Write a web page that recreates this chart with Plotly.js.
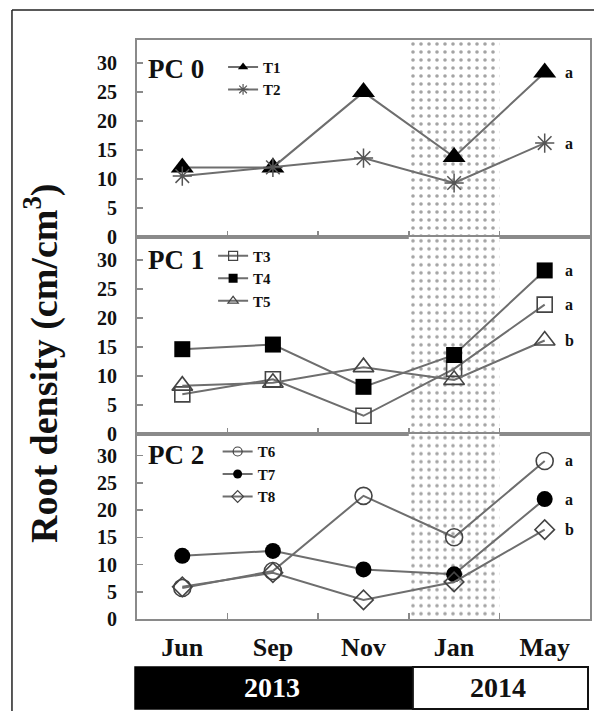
<!DOCTYPE html>
<html><head><meta charset="utf-8">
<script src="https://cdn.plot.ly/plotly-3.0.1.min.js"></script>
<style>html,body{margin:0;padding:0;background:#fff}#chart{width:594px;height:711px}</style>
</head><body><div id="chart"></div>
<script>
// ---- data ----
const months = ['Jun', 'Sep', 'Nov', 'Jan', 'May'];
const shadedMonth = 'Jan';
const panelLabels = ['PC 0', 'PC 1', 'PC 2'];
const yTicks = [0, 5, 10, 15, 20, 25, 30];
const years = ['2013', '2014'];
const yTitle = 'Root density (cm/cm<sup>3</sup>)';

const namesPC0 = ['T1', 'T2'];
const T1 = [12.0, 12.0, 25.0, 13.8, 28.4];
const T2 = [10.5, 12.0, 13.6, 9.3, 16.2];
const sigPC0 = ['a', 'a'];

const namesPC1 = ['T3', 'T4', 'T5'];
const T3 = [6.8, 9.4, 3.1, 11.2, 22.3];
const T4 = [14.6, 15.4, 8.1, 13.6, 28.2];
const T5 = [8.3, 8.8, 11.5, 9.3, 16.1];
const sigPC1 = ['a', 'a', 'b'];

const namesPC2 = ['T6', 'T7', 'T8'];
const T6 = [5.7, 8.8, 22.6, 15.0, 29.0];
const T7 = [11.6, 12.5, 9.1, 8.2, 22.0];
const T8 = [5.9, 8.5, 3.5, 6.8, 16.4];
const sigPC2 = ['a', 'a', 'b'];

// ---- styles ----
const Y_MAX = 34;
const SERIF = 'Liberation Serif, Times New Roman, serif';
const LINE = '#6e6e6e';
const FRAME = '#8a8a8a';
const styles = {
  T1: {symbol: 'triangle-up', size: 20, color: '#000', lc: '#000', lw: 0},
  T2: {symbol: 'asterisk-open', size: 16, color: '#555', lc: '#555', lw: 1.5},
  T3: {symbol: 'square-open', size: 15, color: '#444', lc: '#444', lw: 1.6},
  T4: {symbol: 'square', size: 16, color: '#000', lc: '#000', lw: 0},
  T5: {symbol: 'triangle-up-open', size: 18, color: '#444', lc: '#444', lw: 1.6},
  T6: {symbol: 'circle-open', size: 17, color: '#444', lc: '#444', lw: 1.6},
  T7: {symbol: 'circle', size: 16, color: '#000', lc: '#000', lw: 0},
  T8: {symbol: 'diamond-open', size: 15, color: '#444', lc: '#444', lw: 1.6}
};

const panels = [
  {names: namesPC0, series: [T1, T2], sig: sigPC0, xa: 'x', ya: 'y', legend: 'legend'},
  {names: namesPC1, series: [T3, T4, T5], sig: sigPC1, xa: 'x2', ya: 'y2', legend: 'legend2'},
  {names: namesPC2, series: [T6, T7, T8], sig: sigPC2, xa: 'x3', ya: 'y3', legend: 'legend3'}
];

const traces = [];
const annotations = [];
panels.forEach((p, pi) => {
  // winter shading band
  traces.push({
    type: 'bar', x: [shadedMonth], y: [Y_MAX], width: 1, xaxis: p.xa, yaxis: p.ya,
    marker: {color: '#ffffff', line: {width: 0},
      pattern: {shape: '.', size: 8, solidity: 0.16, fgcolor: '#a4a4a4', bgcolor: '#ffffff'}},
    showlegend: false, hoverinfo: 'skip'
  });
  p.names.forEach((n, i) => {
    const s = styles[n];
    traces.push({
      type: 'scatter', mode: 'lines+markers', x: months, y: p.series[i], name: n,
      xaxis: p.xa, yaxis: p.ya, showlegend: false, cliponaxis: false,
      line: {color: LINE, width: 2},
      marker: {symbol: s.symbol, size: s.size, color: s.color, line: {color: s.lc, width: s.lw}}
    });
    // legend entry (small marker)
    traces.push({
      type: 'scatter', mode: 'lines+markers', x: [null], y: [null], name: n,
      xaxis: p.xa, yaxis: p.ya, legend: p.legend, showlegend: true,
      line: {color: LINE, width: 2},
      marker: {symbol: s.symbol, size: 9, color: s.color, line: {color: s.lc, width: s.lw ? 1.2 : 0}}
    });
    annotations.push({
      xref: p.xa, yref: p.ya, x: months[months.length - 1], y: p.series[i][months.length - 1],
      text: p.sig[i], showarrow: false, xanchor: 'left', yanchor: 'middle', xshift: 18,
      font: {family: SERIF, size: 16, weight: 'bold', color: '#111'}
    });
  });
});

const pcY = [0.853, 0.883, 0.886];
panels.forEach((p, pi) => {
  annotations.push({
    xref: p.xa + ' domain', yref: p.ya + ' domain', x: 0.02, y: pcY[pi],
    text: panelLabels[pi], showarrow: false, xanchor: 'left', yanchor: 'middle',
    font: {family: SERIF, size: 27, weight: 'bold', color: '#111'}
  });
});

annotations.push({
  xref: 'paper', yref: 'paper', x: -0.212, y: 0.442, text: yTitle, textangle: -90,
  showarrow: false, xanchor: 'center', yanchor: 'middle',
  font: {family: SERIF, size: 38, weight: 'bold', color: '#111'}
});
annotations.push({
  xref: 'paper', yref: 'paper', x: 0.298, y: -0.119, text: years[0], showarrow: false,
  xanchor: 'center', yanchor: 'middle',
  font: {family: SERIF, size: 28, weight: 'bold', color: '#ffffff'}
});
annotations.push({
  xref: 'paper', yref: 'paper', x: 0.797, y: -0.119, text: years[1], showarrow: false,
  xanchor: 'center', yanchor: 'middle',
  font: {family: SERIF, size: 28, weight: 'bold', color: '#111'}
});

const shapes = [
  {type: 'rect', xref: 'paper', yref: 'paper', x0: -0.0044, x1: 0.609, y0: -0.1554, y1: -0.0829,
   fillcolor: '#000', line: {color: '#000', width: 1.5}, layer: 'below'},
  {type: 'rect', xref: 'paper', yref: 'paper', x0: 0.609, x1: 0.9956, y0: -0.1554, y1: -0.0829,
   fillcolor: '#fff', line: {color: '#111', width: 2}, layer: 'below'},
  {type: 'line', xref: 'paper', yref: 'paper', x0: -0.276, x1: 1.02, y0: 1.0518, y1: 1.0518,
   line: {color: '#222', width: 1.5}},
  {type: 'line', xref: 'paper', yref: 'paper', x0: -0.276, x1: -0.276, y0: 1.0518, y1: -0.2,
   line: {color: '#222', width: 1.5}}
];

function xAxis(anchor, showLabels) {
  return {
    anchor: anchor, domain: [0, 1], type: 'category', categoryorder: 'array', categoryarray: months,
    range: [-0.5, 4.5], tickson: 'boundaries', ticks: 'inside', ticklen: 6, tickwidth: 1.5,
    tickcolor: FRAME, showline: true, linecolor: FRAME, linewidth: 2, mirror: true,
    showgrid: false, zeroline: false, fixedrange: true, showticklabels: showLabels,
    ticklabelstandoff: 4,
    tickfont: {family: SERIF, size: 26, weight: 'bold', color: '#111'}
  };
}
function yAxis(anchor, domain) {
  return {
    anchor: anchor, domain: domain, range: [0, Y_MAX], tickmode: 'array', tickvals: yTicks,
    ticks: 'inside', ticklen: 6, tickwidth: 1.5, tickcolor: FRAME, showline: true,
    linecolor: FRAME, linewidth: 2, mirror: true, showgrid: false, zeroline: false,
    fixedrange: true, ticklabelstandoff: 14,
    tickfont: {family: SERIF, size: 20, weight: 'bold', color: '#111'}
  };
}
function legendAt(x, y) {
  return {x: x, y: y, xanchor: 'left', yanchor: 'middle', bgcolor: 'rgba(0,0,0,0)',
    borderwidth: 0, tracegroupgap: 0, itemwidth: 30, itemclick: false, itemdoubleclick: false,
    font: {family: SERIF, size: 15, weight: 'bold', color: '#111'}};
}

const layout = {
  width: 594, height: 711, margin: {l: 137, r: 4, t: 40, b: 92},
  paper_bgcolor: '#fff', plot_bgcolor: 'rgba(0,0,0,0)', showlegend: true, barmode: 'overlay',
  xaxis: xAxis('y', false), xaxis2: xAxis('y2', false), xaxis3: xAxis('y3', true),
  yaxis: yAxis('x', [0.66, 1]), yaxis2: yAxis('x2', [0.32, 0.66]), yaxis3: yAxis('x3', [0, 0.32]),
  legend: legendAt(0.19, 0.934), legend2: legendAt(0.168, 0.588), legend3: legendAt(0.178, 0.250),
  annotations: annotations, shapes: shapes
};

Plotly.newPlot('chart', traces, layout, {displayModeBar: false, staticPlot: true});
</script></body></html>
